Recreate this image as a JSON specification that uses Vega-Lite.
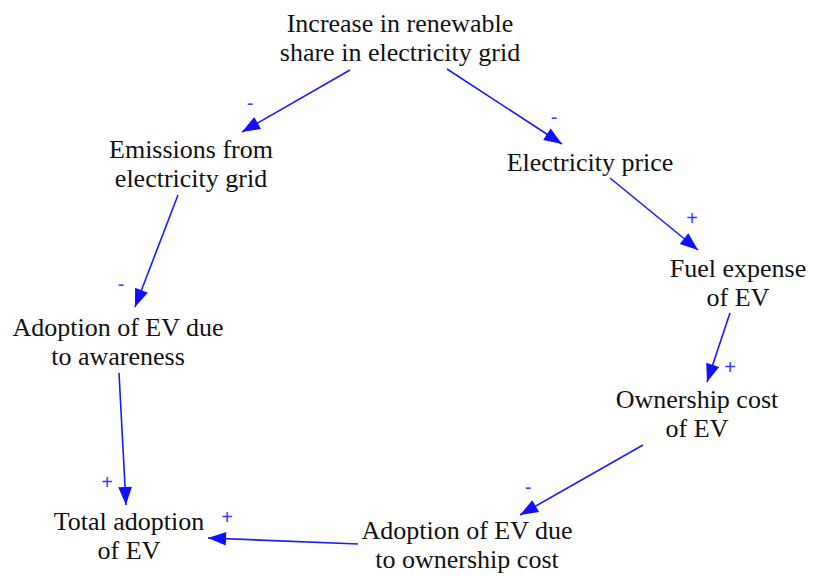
{
  "$schema": "https://vega.github.io/schema/vega-lite/v6.json",
  "width": 813,
  "height": 576,
  "autosize": "none",
  "padding": 0,
  "background": "white",
  "config": {"view": {"stroke": null}},
  "datasets": {
    "nodes": [
      {"label": "Increase in renewable\nshare in electricity grid", "x": 400, "y": 24},
      {"label": "Emissions from\nelectricity grid", "x": 191, "y": 150},
      {"label": "Electricity price", "x": 590, "y": 163},
      {"label": "Fuel expense\nof EV", "x": 738, "y": 269},
      {"label": "Adoption of EV due\nto awareness", "x": 118, "y": 328},
      {"label": "Total adoption\nof EV", "x": 129, "y": 522},
      {"label": "Ownership cost\nof EV", "x": 697, "y": 400},
      {"label": "Adoption of EV due\nto ownership cost", "x": 467, "y": 531}
    ],
    "links": [
      {"x": 350, "y": 70, "x2": 242, "y2": 132},
      {"x": 447, "y": 69, "x2": 562, "y2": 144},
      {"x": 178, "y": 195, "x2": 135, "y2": 307},
      {"x": 610, "y": 178, "x2": 698, "y2": 250},
      {"x": 730, "y": 313, "x2": 707, "y2": 382},
      {"x": 643, "y": 445, "x2": 520, "y2": 515},
      {"x": 119, "y": 373, "x2": 126, "y2": 505},
      {"x": 358, "y": 544, "x2": 208, "y2": 538}
    ],
    "signs": [
      {"s": "-", "x": 250, "y": 104},
      {"s": "-", "x": 554, "y": 118},
      {"s": "+", "x": 692, "y": 219},
      {"s": "-", "x": 121, "y": 285},
      {"s": "+", "x": 730, "y": 368},
      {"s": "-", "x": 528, "y": 488},
      {"s": "+", "x": 107, "y": 483},
      {"s": "+", "x": 227, "y": 518}
    ]
  },
  "layer": [
    {
      "data": {"name": "links"},
      "mark": {"type": "rule", "color": "#1a1aff", "strokeWidth": 1.6},
      "encoding": {
        "x": {"field": "x", "type": "quantitative", "scale": {"domain": [0, 813]}, "axis": null},
        "y": {"field": "y", "type": "quantitative", "scale": {"domain": [0, 576], "reverse": true}, "axis": null},
        "x2": {"field": "x2"},
        "y2": {"field": "y2"}
      }
    },
    {
      "data": {"name": "links"},
      "transform": [
        {"calculate": "atan2(datum.x2 - datum.x, -(datum.y2 - datum.y)) * 180 / PI", "as": "ang"}
      ],
      "mark": {"type": "point", "shape": "M0,0 L-0.38,1 L0.38,1 Z", "filled": true, "color": "#1010ff", "opacity": 1, "size": 1300},
      "encoding": {
        "x": {"field": "x2", "type": "quantitative", "scale": {"domain": [0, 813]}, "axis": null},
        "y": {"field": "y2", "type": "quantitative", "scale": {"domain": [0, 576], "reverse": true}, "axis": null},
        "angle": {"field": "ang", "type": "quantitative", "scale": null}
      }
    },
    {
      "data": {"name": "nodes"},
      "mark": {"type": "text", "font": "Liberation Serif", "fontSize": 26, "lineBreak": "\n", "lineHeight": 29, "align": "center", "baseline": "middle", "color": "#111111"},
      "encoding": {
        "x": {"field": "x", "type": "quantitative", "scale": {"domain": [0, 813]}, "axis": null},
        "y": {"field": "y", "type": "quantitative", "scale": {"domain": [0, 576], "reverse": true}, "axis": null},
        "text": {"field": "label"}
      }
    },
    {
      "data": {"name": "signs"},
      "mark": {"type": "text", "font": "Liberation Sans", "fontSize": 20, "align": "center", "baseline": "middle", "color": "#3a3aff"},
      "encoding": {
        "x": {"field": "x", "type": "quantitative", "scale": {"domain": [0, 813]}, "axis": null},
        "y": {"field": "y", "type": "quantitative", "scale": {"domain": [0, 576], "reverse": true}, "axis": null},
        "text": {"field": "s"}
      }
    }
  ]
}
